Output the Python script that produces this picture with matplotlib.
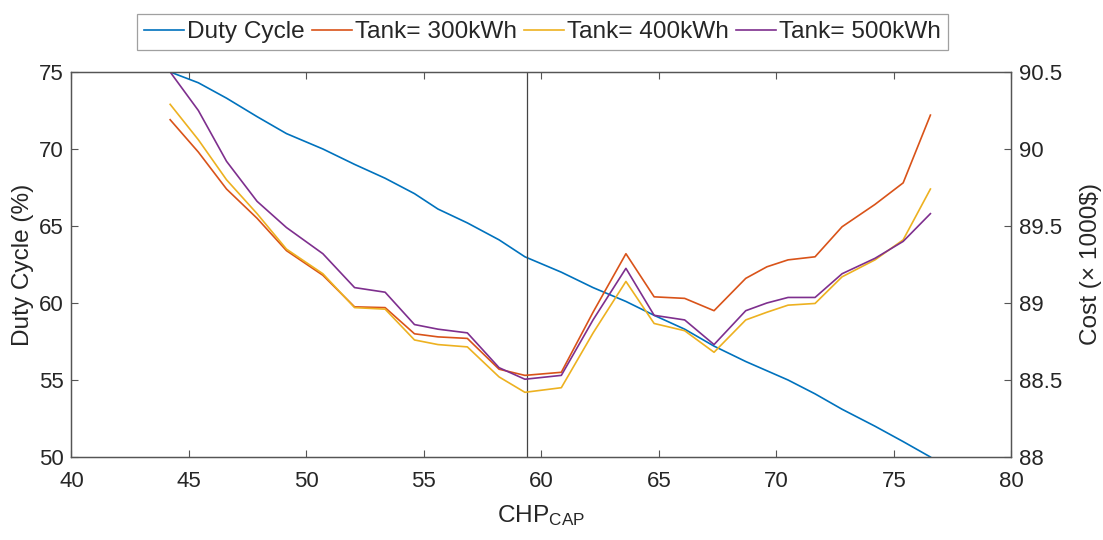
import matplotlib
matplotlib.use("Agg")
import matplotlib.pyplot as plt

plt.rcParams['font.family'] = ['Liberation Sans', 'DejaVu Sans']
plt.rcParams['mathtext.fontset'] = 'custom'
plt.rcParams['mathtext.rm'] = 'Liberation Sans'
plt.rcParams['mathtext.it'] = 'Liberation Sans'

# ---- data ----
chp_cap = [44.2, 45.4, 46.6, 47.9, 49.15, 50.7, 52.05, 53.35, 54.6, 55.6, 56.85,
           58.2, 59.3, 60.85, 62.2, 63.6, 64.8, 66.1, 67.35, 68.7, 69.6, 70.5,
           71.65, 72.8, 74.2, 75.4, 76.56]
duty_cycle = [75.0, 74.3, 73.3, 72.1, 71.0, 70.0, 69.0, 68.1, 67.1, 66.1, 65.2,
              64.1, 63.0, 62.0, 61.0, 60.1, 59.2, 58.3, 57.2, 56.2, 55.6, 55.0,
              54.1, 53.1, 52.0, 51.0, 50.0]
cost_300 = [90.19, 89.98, 89.74, 89.55, 89.34, 89.18, 88.975, 88.97, 88.80, 88.78, 88.77,
            88.57, 88.53, 88.55, 88.94, 89.32, 89.04, 89.03, 88.95, 89.16, 89.235, 89.28,
            89.30, 89.495, 89.64, 89.78, 90.22]
cost_400 = [90.29, 90.06, 89.80, 89.58, 89.35, 89.19, 88.97, 88.96, 88.76, 88.73, 88.715,
            88.52, 88.42, 88.45, 88.805, 89.14, 88.867, 88.82, 88.68, 88.89, 88.94, 88.986,
            88.997, 89.17, 89.28, 89.41, 89.74]
cost_500 = [90.50, 90.25, 89.92, 89.66, 89.49, 89.32, 89.10, 89.07, 88.86, 88.83, 88.806,
            88.58, 88.505, 88.53, 88.89, 89.225, 88.92, 88.89, 88.73, 88.95, 89.0, 89.036,
            89.036, 89.19, 89.29, 89.40, 89.58]
optimum_cap = 59.4

x_ticks = [40, 45, 50, 55, 60, 65, 70, 75, 80]
left_ticks = [50, 55, 60, 65, 70, 75]
right_ticks = [88, 88.5, 89, 89.5, 90, 90.5]
right_tick_labels = ['88', '88.5', '89', '89.5', '90', '90.5']
legend_labels = ['Duty Cycle', 'Tank= 300kWh', 'Tank= 400kWh', 'Tank= 500kWh']

c_blue, c_orange, c_yellow, c_purple = '#0072BD', '#D95319', '#EDB120', '#7E2F8E'
axis_col = '#555555'
text_col = '#262626'

fig = plt.figure(figsize=(11.03, 5.40), dpi=100)
ax = fig.add_axes([0.0648, 0.1537, 0.852, 0.713])
ax2 = ax.twinx()

lw = 1.2
l1, = ax.plot(chp_cap, duty_cycle, color=c_blue, lw=lw)
l2, = ax2.plot(chp_cap, cost_300, color=c_orange, lw=lw)
l3, = ax2.plot(chp_cap, cost_400, color=c_yellow, lw=lw)
l4, = ax2.plot(chp_cap, cost_500, color=c_purple, lw=lw)
ax.axvline(optimum_cap, color='#444444', lw=0.9)

ax.set_xlim(40, 80)
ax.set_ylim(50, 75)
ax2.set_ylim(88, 90.5)
ax.set_xticks(x_ticks)
ax.set_yticks(left_ticks)
ax2.set_yticks(right_ticks)
ax2.set_yticklabels(right_tick_labels)

fs = 16
for a in (ax, ax2):
    for s in a.spines.values():
        s.set_color(axis_col)
        s.set_linewidth(0.9)
    a.tick_params(direction='in', length=5, width=0.8, colors=axis_col,
                  labelcolor=text_col, labelsize=fs, pad=5.5)
ax.tick_params(axis='x', top=True, pad=10)
ax.tick_params(axis='y', right=False)

lfs = 17.6
ax.set_ylabel('Duty Cycle (%)', fontsize=lfs, color=text_col, labelpad=4)
ax2.set_ylabel('Cost (× 1000$)', fontsize=lfs, color=text_col, labelpad=13)
ax.set_xlabel(r'CHP$_{\mathrm{CAP}}$', fontsize=lfs, color=text_col, labelpad=8)

leg = fig.legend([l1, l2, l3, l4], legend_labels, loc='center',
                 bbox_to_anchor=(0.4918, 0.9407), ncol=4, fontsize=lfs,
                 frameon=True, fancybox=False, edgecolor='#888888',
                 handlelength=1.64, handletextpad=0.12, columnspacing=0.29,
                 borderpad=0.3, borderaxespad=0)
leg.get_frame().set_linewidth(0.9)
for t in leg.get_texts():
    t.set_color(text_col)

fig.savefig('out.png', dpi=100)
